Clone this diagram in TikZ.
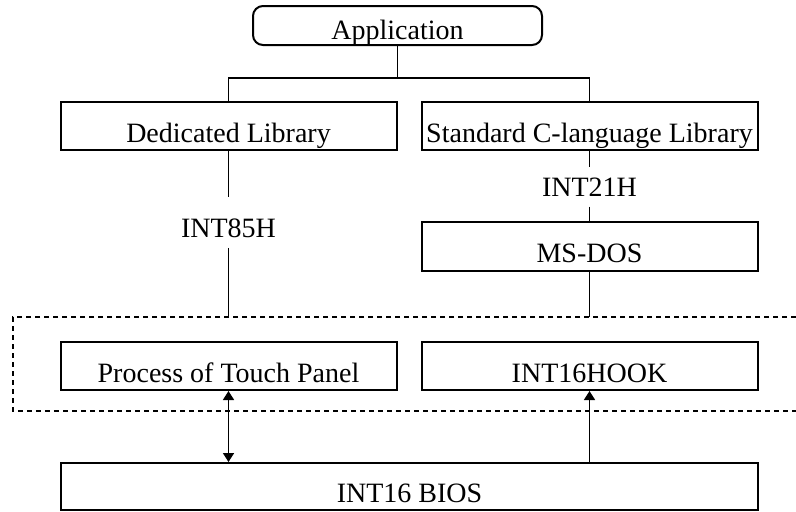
\documentclass[tikz,border=0pt]{standalone}
\usepackage{fontspec}
\setmainfont{Liberation Serif}
\usepackage{tikz}
\usetikzlibrary{arrows.meta,positioning}

\tikzset{
	layer/.style={draw, line width=1pt, inner sep=0pt, text height=16pt, text depth=0pt,
		font=\fontsize{14}{16}\selectfont},
	appbox/.style={layer, rounded corners=5pt, text height=14pt, minimum width=144.5pt, minimum height=19.5pt},
	colbox/.style={layer, minimum width=168pt, minimum height=24pt},
	label/.style={inner sep=0pt, font=\fontsize{14}{16}\selectfont},
	wire/.style={line width=0.8pt},
	>={Triangle[length=4.5pt,width=5.5pt]}
}

\begin{document}
\begin{tikzpicture}[x=0.5pt,y=-0.5pt]
	\useasboundingbox (0,0) rectangle (796,511);

	% top level
	\node[appbox] (app) at (397.5,25.5) {Application};
	\coordinate (split) at (397.5,78);

	% libraries
	\node[colbox] (dedlib) at (228.5,126) {Dedicated Library};
	\node[colbox] (stdlib) at (589.5,126) {Standard C-language Library};

	% interrupts and DOS
	\node[label] (int85) at (228.5,228) {INT85H};
	\node[label] (int21) at (589.5,187) {INT21H};
	\node[colbox, minimum height=24.5pt] (msdos) at (589.5,246.5) {MS-DOS};

	% hooked layer
	\coordinate (hooktl) at (13,317);
	\coordinate (hookbl) at (13,411);
	\coordinate (hooktr) at (796,317);
	\coordinate (hookbr) at (796,411);
	\draw[line width=1pt, dash pattern=on 2.5pt off 2pt] (hooktr) -- (hooktl) -- (hookbl) -- (hookbr);
	\node[colbox] (touch) at (228.5,366) {Process of Touch Panel};
	\node[colbox] (hook) at (589.5,366) {INT16HOOK};

	% BIOS
	\node[colbox, minimum width=348.5pt, minimum height=23.5pt] (bios) at (409.5,486.5) {INT16 BIOS};

	% connectors
	\draw[wire] (app.south) -- (split);
	\draw[wire] (dedlib.north) |- (split) -| (stdlib.north);
	\draw[wire] (dedlib.south) -- ([yshift=10.5pt]int85.north);
	\draw[wire] ([yshift=-5pt]int85.south) -- (int85 |- hooktl);
	\draw[wire] (stdlib.south) -- ([yshift=5pt]int21.north);
	\draw[wire] ([yshift=-5pt]int21.south) -- (msdos.north);
	\draw[wire] (msdos.south) -- (msdos |- hooktl);
	\draw[wire, <->] (touch.south) -- (touch.south |- bios.north);
	\draw[wire, ->] (hook.south |- bios.north) -- (hook.south);
\end{tikzpicture}
\end{document}
